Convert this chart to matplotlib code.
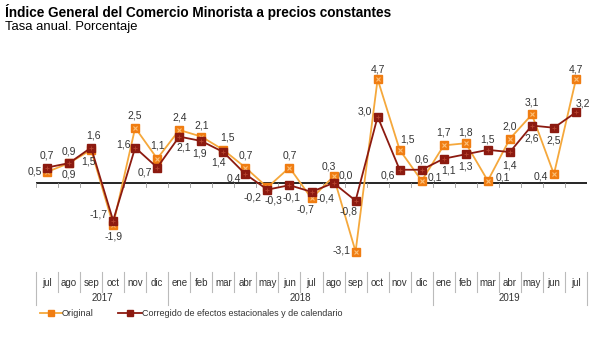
import matplotlib.pyplot as plt
import matplotlib.transforms as mtransforms

plt.rcParams['font.family'] = ['Liberation Sans', 'DejaVu Sans']

# data
months = ['jul', 'ago', 'sep', 'oct', 'nov', 'dic',
          'ene', 'feb', 'mar', 'abr', 'may', 'jun', 'jul', 'ago', 'sep', 'oct', 'nov', 'dic',
          'ene', 'feb', 'mar', 'abr', 'may', 'jun', 'jul']
years = ['2017', '2018', '2019']
year_spans = [(0, 5), (6, 17), (18, 24)]

original = [0.5, 0.9, 1.5, -1.9, 2.5, 1.1,
            2.4, 2.1, 1.5, 0.7, -0.2, 0.7, -0.7, 0.3, -3.1, 4.7, 1.5, 0.1,
            1.7, 1.8, 0.1, 2.0, 3.1, 0.4, 4.7]
corregido = [0.7, 0.9, 1.6, -1.7, 1.6, 0.7,
             2.1, 1.9, 1.4, 0.4, -0.3, -0.1, -0.4, 0.0, -0.8, 3.0, 0.6, 0.6,
             1.1, 1.3, 1.5, 1.4, 2.6, 2.5, 3.2]

# label offsets in pixels (dx, dy)
off_orig = [(-12, 0), (0, -11), (-3, -12), (0, -12), (0, 12), (0, 13),
            (0, 12), (0, 11), (4, 12), (0, 12), (-15, -10), (0, 12), (-6, -11),
            (-5, 10), (-14, 1), (0, 10), (8, 10), (13, 3),
            (0, 13), (0, 11), (15, 3), (0, 12), (0, 12), (-13, -2), (0, 10)]
off_corr = [(0, 12), (0, 12), (2, 12), (-15, 6), (-12, 3), (-12, -5),
            (4, -11), (-2, -12), (-5, -10), (-12, -4), (6, -11), (2, -12), (14, -7),
            (12, 7), (-7, -11), (-13, 5), (-12, -6), (0, 10),
            (5, -12), (0, -12), (0, 10), (0, -13), (0, -13), (0, -13), (7, 9)]

c_orig_line = '#F5A83C'
c_orig_mark = '#F07D12'
c_corr = '#8C1A10'
txt = '#333333'

fig = plt.figure(figsize=(6.0, 3.51), dpi=100)
H = 351.0
ax = fig.add_axes([36 / 600, 1 - 260 / H, 551 / 600, 200 / H])
ax.set_xlim(-0.5, 24.5)
ax.set_ylim(-(260 - 183) / 22.1, (183 - 60) / 22.1)
ax.axis('off')

x = list(range(len(months)))

# zero line with small ticks at category boundaries
ax.axhline(0, color='black', lw=1.2, zorder=1)
for b in range(len(months) + 1):
    ax.plot([b - 0.5, b - 0.5], [0, -4 / 22.1], color='#999999', lw=0.6, zorder=1)

ax.plot(x, original, color=c_orig_line, lw=1.3, zorder=2)
ax.plot(x, original, ls='none', marker='s', ms=5.8, mfc=c_orig_mark, mec=c_orig_mark, zorder=3)
ax.plot(x, original, ls='none', marker='x', ms=3.5, mew=0.8, color='#FBC07A', zorder=4)

ax.plot(x, corregido, color=c_corr, lw=1.3, zorder=5)
ax.plot(x, corregido, ls='none', marker='s', ms=5.8, mfc=c_corr, mec=c_corr, zorder=6)
ax.plot(x, corregido, ls='none', marker='+', ms=3.5, mew=0.6, color='#B5432F', zorder=7)

for i in x:
    ax.annotate(f'{original[i]:.1f}'.replace('.', ','), (i, original[i]),
                xytext=off_orig[i], textcoords='offset pixels',
                ha='center', va='center', fontsize=7.5, color=txt, zorder=8)
    ax.annotate(f'{corregido[i]:.1f}'.replace('.', ','), (i, corregido[i]),
                xytext=off_corr[i], textcoords='offset pixels',
                ha='center', va='center', fontsize=7.5, color=txt, zorder=8)

# category axis at the bottom
tr = mtransforms.blended_transform_factory(ax.transData, fig.transFigure)
yf = lambda py: 1 - py / H
for i, m in enumerate(months):
    ax.text(i, yf(283), m, transform=tr, ha='center', va='center',
            fontsize=7, color=txt, clip_on=False)
year_bounds = [s for s, e in year_spans] + [year_spans[-1][1] + 1]
for b in range(len(months) + 1):
    bottom = 305 if b in year_bounds else 292
    ax.plot([b - 0.5, b - 0.5], [yf(272), yf(bottom)], transform=tr,
            color='#BBBBBB', lw=0.8, clip_on=False)
for yr, (s, e) in zip(years, year_spans):
    ax.text((s + e) / 2, yf(298), yr, transform=tr, ha='center', va='center',
            fontsize=7, color=txt, clip_on=False)

# legend
fig.lines.append(plt.Line2D([40 / 600, 62 / 600], [yf(313)] * 2, color=c_orig_line, lw=1.3,
                            transform=fig.transFigure))
fig.lines.append(plt.Line2D([51 / 600], [yf(313)], marker='s', ms=4.5, color=c_orig_mark,
                            transform=fig.transFigure))
fig.text(62 / 600, yf(313), 'Original', fontsize=6.6, color=txt, va='center')
fig.lines.append(plt.Line2D([118 / 600, 142 / 600], [yf(313)] * 2, color=c_corr, lw=1.3,
                            transform=fig.transFigure))
fig.lines.append(plt.Line2D([130 / 600], [yf(313)], marker='s', ms=4.5, color=c_corr,
                            transform=fig.transFigure))
fig.text(142 / 600, yf(313), 'Corregido de efectos estacionales y de calendario',
         fontsize=6.5, color=txt, va='center')

# titles
fig.text(5 / 600, yf(12), 'Índice General del Comercio Minorista a precios constantes',
         fontsize=9.8, fontweight='bold', color='black', va='center')
fig.text(5 / 600, yf(27), 'Tasa anual. Porcentaje', fontsize=9.4, color='black', va='center')

fig.savefig('out.png', dpi=100)
